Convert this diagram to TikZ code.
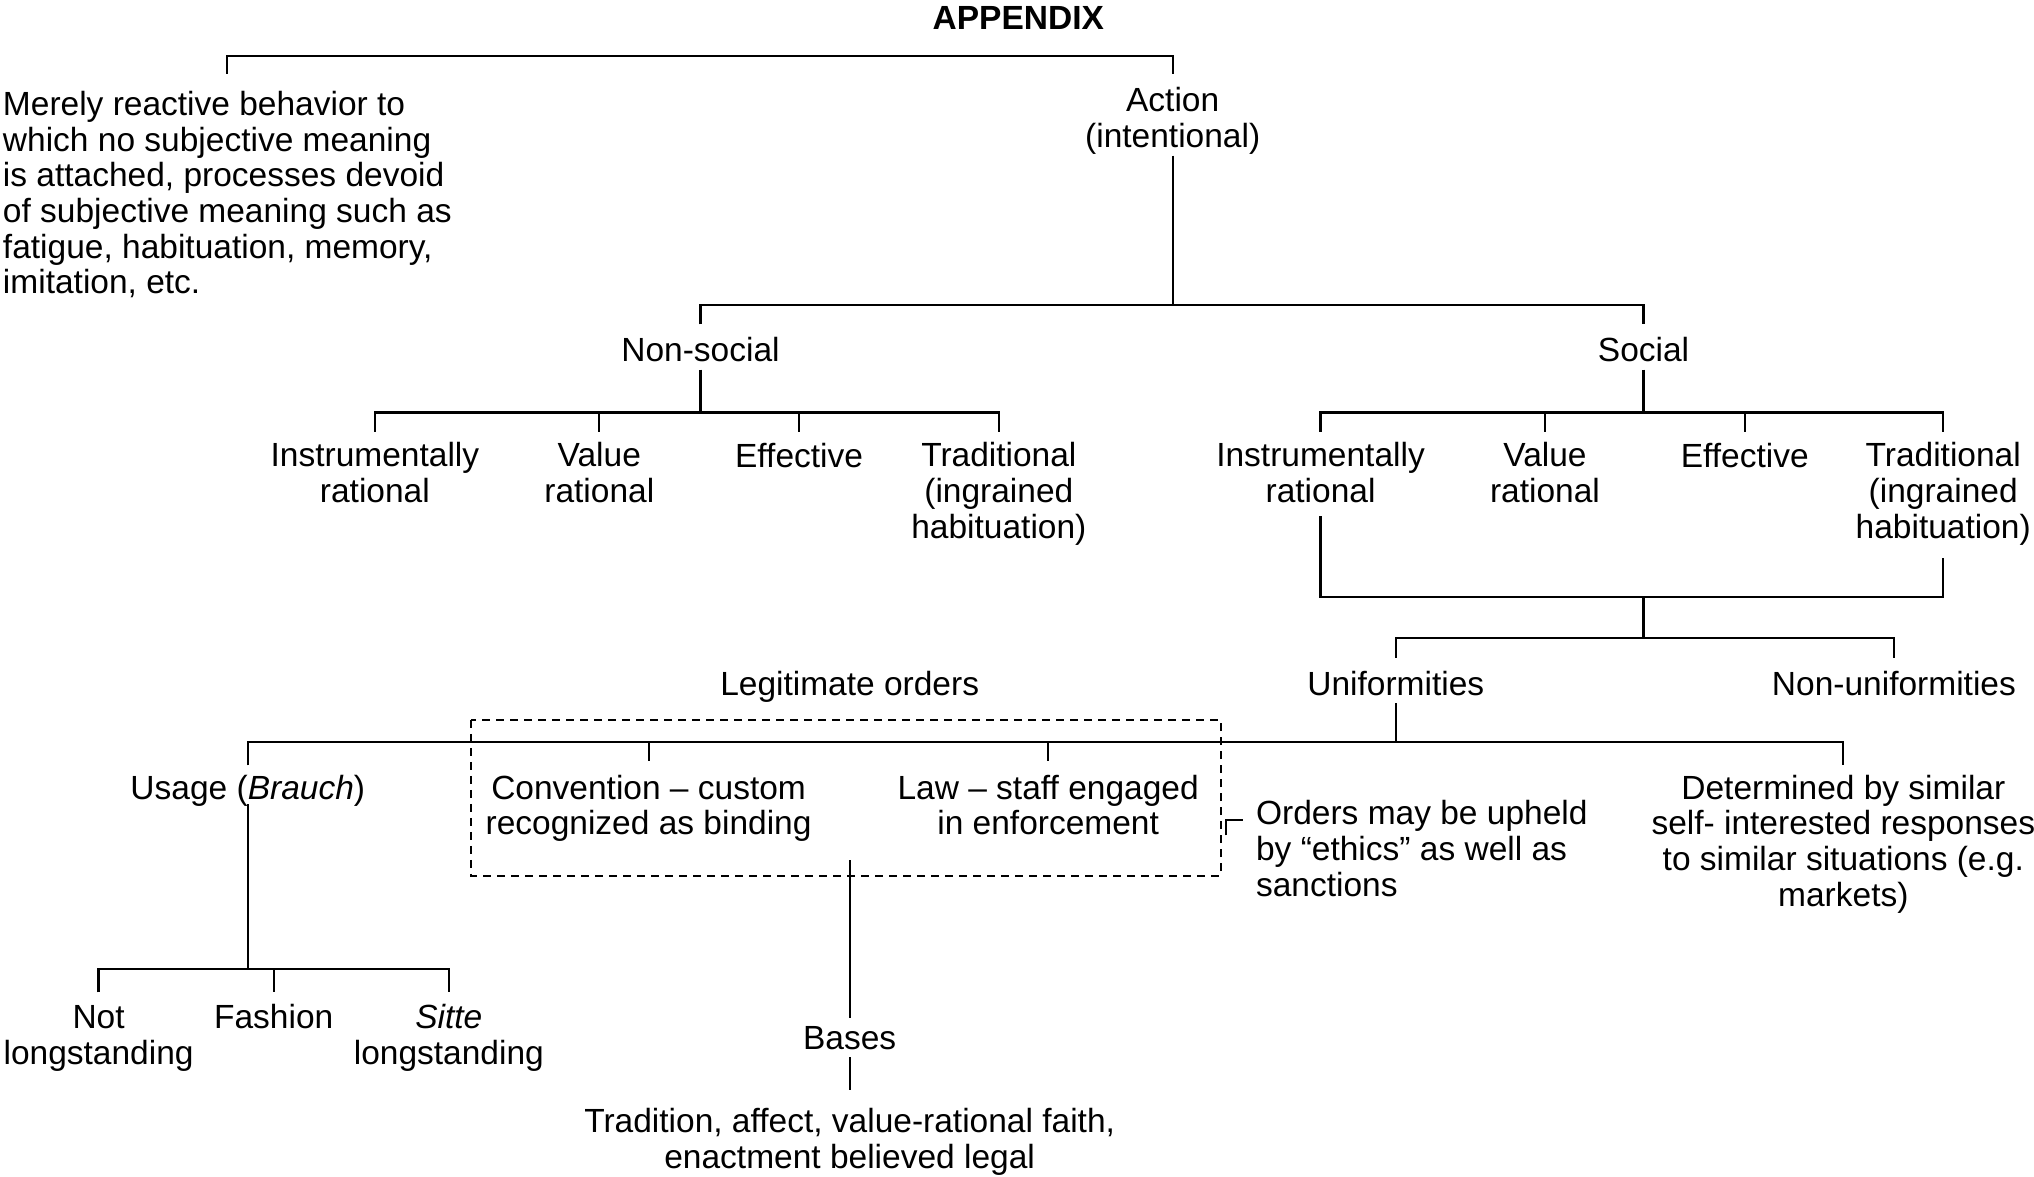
\documentclass[tikz,border=0pt]{standalone}
\usepackage{fontspec}
\setmainfont{Liberation Sans}
\begin{document}
\begin{tikzpicture}[x=0.6486pt,y=-0.6486pt,
  lbl/.style={font=\fontsize{16.75}{17.85}\selectfont, inner sep=0pt, align=center, anchor=base},
  ttl/.style={font=\bfseries\fontsize{16.75}{17.85}\selectfont, inner sep=0pt, anchor=base},
  lnk/.style={line width=1.1pt},
  dbox/.style={line width=1pt, dash pattern=on 4pt off 3pt},
  ]
\useasboundingbox (0,0) rectangle (1568,907);
% nodes (anchor=base is the baseline of the last line)
\node[ttl] (title) at (785,23) {APPENDIX};
\node[lbl, align=left, anchor=base west] (reactive) at (2,226.6) {Merely reactive behavior to\\which no subjective meaning\\is attached, processes devoid\\of subjective meaning such as\\fatigue, habituation, memory,\\imitation, etc.};
\node[lbl] (action) at (904,113.5) {Action\\(intentional)};
\node[lbl] (nonsocial) at (540,279) {Non-social};
\node[lbl] (social) at (1267,279) {Social};
\node[lbl] (ns1) at (289,387.5) {Instrumentally\\rational};
\node[lbl] (ns2) at (462,387.5) {Value\\rational};
\node[lbl] (ns3) at (616,360) {Effective};
\node[lbl] (ns4) at (770,415) {Traditional\\(ingrained\\habituation)};
\node[lbl] (s1) at (1018,387.5) {Instrumentally\\rational};
\node[lbl] (s2) at (1191,387.5) {Value\\rational};
\node[lbl] (s3) at (1345,360) {Effective};
\node[lbl] (s4) at (1498,415) {Traditional\\(ingrained\\habituation)};
\node[lbl] (legit) at (655,536) {Legitimate orders};
\node[lbl] (unif) at (1076,536) {Uniformities};
\node[lbl] (nonunif) at (1460,536) {Non-uniformities};
\node[lbl] (usage) at (191,616) {Usage (\textit{Brauch})};
\node[lbl] (conv) at (500,643.5) {Convention -- custom\\recognized as binding};
\node[lbl] (law) at (808,643.5) {Law -- staff engaged\\in enforcement};
\node[lbl, align=left, anchor=base west] (upheld) at (968,691) {Orders may be upheld\\by “ethics” as well as\\sanctions};
\node[lbl] (determ) at (1421,698.6) {Determined by similar\\self- interested responses\\to similar situations (e.g.\\markets)};
\node[lbl] (notl) at (76,820.5) {Not\\longstanding};
\node[lbl] (fashion) at (211,793) {Fashion};
\node[lbl] (sitte) at (346,820.5) {\textit{Sitte}\\longstanding};
\node[lbl] (bases) at (655,809) {Bases};
\node[lbl] (trad) at (655,900.5) {Tradition, affect, value-rational faith,\\enactment believed legal};
\coordinate (boxnw) at (363,555);
\coordinate (boxse) at (941,675);
\coordinate (tickend) at (958,632);
% connectors
\draw[lnk] (reactive.north |- 0,57) -- (reactive.north |- 0,43) -- (action |- 0,43) -- (action |- 0,57);
\draw[lnk] (action |- 0,120) -- (action |- 0,235);
\draw[lnk] (nonsocial |- 0,250) -- (nonsocial |- 0,235) -- (social |- 0,235) -- (social |- 0,250);
\draw[lnk] (nonsocial |- 0,285) -- (nonsocial |- 0,318);
\draw[lnk] (ns1 |- 0,333) -- (ns1 |- 0,318) -- (ns4 |- 0,318) -- (ns4 |- 0,333);
\draw[lnk] (ns2 |- 0,318) -- (ns2 |- 0,333);
\draw[lnk] (ns3 |- 0,318) -- (ns3 |- 0,333);
\draw[lnk] (social |- 0,285) -- (social |- 0,318);
\draw[lnk] (s1 |- 0,333) -- (s1 |- 0,318) -- (s4 |- 0,318) -- (s4 |- 0,333);
\draw[lnk] (s2 |- 0,318) -- (s2 |- 0,333);
\draw[lnk] (s3 |- 0,318) -- (s3 |- 0,333);
\draw[lnk] (s1 |- 0,398) -- (s1 |- 0,460) -- (s4 |- 0,460) -- (s4 |- 0,430);
\draw[lnk] (social |- 0,460) -- (social |- 0,492);
\draw[lnk] (unif |- 0,507) -- (unif |- 0,492) -- (nonunif |- 0,492) -- (nonunif |- 0,507);
\draw[lnk] (unif |- 0,542) -- (unif |- 0,572);
\draw[lnk] (usage |- 0,590) -- (usage |- 0,572) -- (determ |- 0,572) -- (determ |- 0,590);
\draw[lnk] (conv |- 0,572) -- (conv |- 0,587);
\draw[lnk] (law |- 0,572) -- (law |- 0,587);
\draw[dbox] (boxnw) rectangle (boxse);
\draw[lnk] (usage |- 0,620) -- (usage |- 0,747);
\draw[lnk] (notl |- 0,765) -- (notl |- 0,747) -- (sitte |- 0,747) -- (sitte |- 0,765);
\draw[lnk] (fashion |- 0,747) -- (fashion |- 0,765);
\draw[lnk] (bases |- 0,663) -- (bases |- 0,785);
\draw[lnk] (bases |- 0,815) -- (bases |- 0,840);
\draw[lnk] (945,644) -- (945,632) -- (tickend);
\end{tikzpicture}
\end{document}
